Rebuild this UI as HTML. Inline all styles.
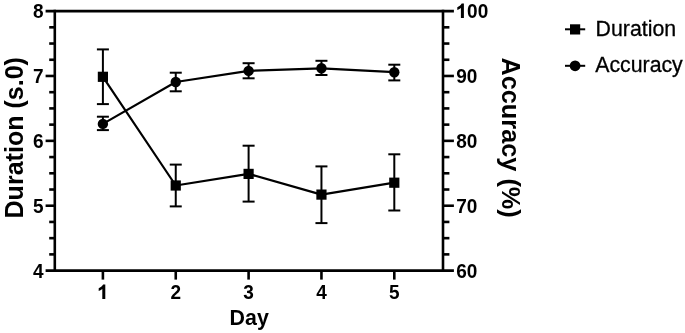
<!DOCTYPE html>
<html><head><meta charset="utf-8"><style>
html,body{margin:0;padding:0;background:#fff;width:685px;height:333px;overflow:hidden}
svg{display:block;filter:grayscale(1)}
text{font-family:"Liberation Sans",sans-serif}
</style></head><body>
<svg width="685" height="333" viewBox="0 0 685 333">
<g stroke="#000" stroke-width="2.6" fill="none" stroke-linecap="butt">
<line x1="45.6" y1="11.1" x2="453.9" y2="11.1"/>
<line x1="45.6" y1="270.6" x2="453.9" y2="270.6"/>
<line x1="54.8" y1="9.799999999999999" x2="54.8" y2="271.90000000000003"/>
<line x1="443.0" y1="9.799999999999999" x2="443.0" y2="271.90000000000003"/>
<line x1="45.6" y1="75.97" x2="54.8" y2="75.97"/>
<line x1="443.0" y1="75.97" x2="453.9" y2="75.97"/>
<line x1="45.6" y1="140.85" x2="54.8" y2="140.85"/>
<line x1="443.0" y1="140.85" x2="453.9" y2="140.85"/>
<line x1="45.6" y1="205.72" x2="54.8" y2="205.72"/>
<line x1="443.0" y1="205.72" x2="453.9" y2="205.72"/>
<line x1="49.2" y1="27.32" x2="54.8" y2="27.32"/>
<line x1="443.0" y1="27.32" x2="449.4" y2="27.32"/>
<line x1="49.2" y1="43.54" x2="54.8" y2="43.54"/>
<line x1="443.0" y1="43.54" x2="449.4" y2="43.54"/>
<line x1="49.2" y1="59.76" x2="54.8" y2="59.76"/>
<line x1="443.0" y1="59.76" x2="449.4" y2="59.76"/>
<line x1="49.2" y1="92.19" x2="54.8" y2="92.19"/>
<line x1="443.0" y1="92.19" x2="449.4" y2="92.19"/>
<line x1="49.2" y1="108.41" x2="54.8" y2="108.41"/>
<line x1="443.0" y1="108.41" x2="449.4" y2="108.41"/>
<line x1="49.2" y1="124.63" x2="54.8" y2="124.63"/>
<line x1="443.0" y1="124.63" x2="449.4" y2="124.63"/>
<line x1="49.2" y1="157.07" x2="54.8" y2="157.07"/>
<line x1="443.0" y1="157.07" x2="449.4" y2="157.07"/>
<line x1="49.2" y1="173.29" x2="54.8" y2="173.29"/>
<line x1="443.0" y1="173.29" x2="449.4" y2="173.29"/>
<line x1="49.2" y1="189.51" x2="54.8" y2="189.51"/>
<line x1="443.0" y1="189.51" x2="449.4" y2="189.51"/>
<line x1="49.2" y1="221.94" x2="54.8" y2="221.94"/>
<line x1="443.0" y1="221.94" x2="449.4" y2="221.94"/>
<line x1="49.2" y1="238.16" x2="54.8" y2="238.16"/>
<line x1="443.0" y1="238.16" x2="449.4" y2="238.16"/>
<line x1="49.2" y1="254.38" x2="54.8" y2="254.38"/>
<line x1="443.0" y1="254.38" x2="449.4" y2="254.38"/>
<line x1="102.90" y1="270.6" x2="102.90" y2="279.6"/>
<line x1="175.75" y1="270.6" x2="175.75" y2="279.6"/>
<line x1="248.60" y1="270.6" x2="248.60" y2="279.6"/>
<line x1="321.45" y1="270.6" x2="321.45" y2="279.6"/>
<line x1="394.30" y1="270.6" x2="394.30" y2="279.6"/>
</g>
<g font-family="'Liberation Sans', sans-serif" font-weight="bold" font-size="20.7" fill="#000">
<text transform="translate(43.6,18.20) scale(0.92,1)" text-anchor="end">8</text>
<text transform="translate(43.6,83.07) scale(0.92,1)" text-anchor="end">7</text>
<text transform="translate(43.6,147.95) scale(0.92,1)" text-anchor="end">6</text>
<text transform="translate(43.6,212.82) scale(0.92,1)" text-anchor="end">5</text>
<text transform="translate(43.6,277.70) scale(0.92,1)" text-anchor="end">4</text>
<text transform="translate(467.1,18.20) scale(0.92,1)">00</text>
<text transform="translate(456.2,83.07) scale(0.92,1)">90</text>
<text transform="translate(456.2,147.95) scale(0.92,1)">80</text>
<text transform="translate(456.2,212.82) scale(0.92,1)">70</text>
<text transform="translate(456.2,277.70) scale(0.92,1)">60</text>
<text transform="translate(175.75,299) scale(0.92,1)" text-anchor="middle">2</text>
<text transform="translate(248.60,299) scale(0.92,1)" text-anchor="middle">3</text>
<text transform="translate(321.45,299) scale(0.92,1)" text-anchor="middle">4</text>
<text transform="translate(394.30,299) scale(0.92,1)" text-anchor="middle">5</text>
</g>
<path d="M105.3,284.59999999999997 L105.3,298.9 L102.3,298.9 L102.3,288.9 C101.1,289.9 99.8,290.5 98.7,290.9 L98.7,288.29999999999995 C100.5,287.59999999999997 102.1,286.29999999999995 103.1,284.59999999999997 Z" fill="#000"/>
<path d="M463.9,3.599999999999998 L463.9,17.9 L460.9,17.9 L460.9,7.899999999999999 C459.7,8.899999999999999 458.4,9.499999999999998 457.29999999999995,9.899999999999999 L457.29999999999995,7.299999999999999 C459.09999999999997,6.599999999999998 460.7,5.299999999999999 461.7,3.599999999999998 Z" fill="#000"/>
<g font-family="'Liberation Sans', sans-serif" font-weight="bold" font-size="25.3" fill="#000">
<text transform="translate(23.2,137.75) rotate(-90)" text-anchor="middle" font-size="25.05">Duration (s.0)</text>
<text transform="translate(502.2,137.6) rotate(90)" text-anchor="middle">Accuracy (%)</text>
<text transform="translate(249.2,325.0) scale(0.93,1)" text-anchor="middle" font-size="23">Day</text>
</g>
<g stroke="#000" stroke-width="2.0" fill="none">
<polyline stroke-width="2.2" stroke-linejoin="round" points="102.90,76.8 175.75,185.5 248.60,173.9 321.45,194.6 394.30,182.7"/>
<polyline stroke-width="2.2" stroke-linejoin="round" points="102.90,123.9 175.75,82.0 248.60,70.9 321.45,68.3 394.30,72.2"/>
<line x1="102.90" y1="49.4" x2="102.90" y2="104.1"/>
<line x1="96.90" y1="49.4" x2="108.90" y2="49.4"/>
<line x1="96.90" y1="104.1" x2="108.90" y2="104.1"/>
<line x1="175.75" y1="164.6" x2="175.75" y2="206.4"/>
<line x1="169.75" y1="164.6" x2="181.75" y2="164.6"/>
<line x1="169.75" y1="206.4" x2="181.75" y2="206.4"/>
<line x1="248.60" y1="145.7" x2="248.60" y2="201.6"/>
<line x1="242.60" y1="145.7" x2="254.60" y2="145.7"/>
<line x1="242.60" y1="201.6" x2="254.60" y2="201.6"/>
<line x1="321.45" y1="166.4" x2="321.45" y2="223.1"/>
<line x1="315.45" y1="166.4" x2="327.45" y2="166.4"/>
<line x1="315.45" y1="223.1" x2="327.45" y2="223.1"/>
<line x1="394.30" y1="154.3" x2="394.30" y2="210.5"/>
<line x1="388.30" y1="154.3" x2="400.30" y2="154.3"/>
<line x1="388.30" y1="210.5" x2="400.30" y2="210.5"/>
<line x1="102.90" y1="116.7" x2="102.90" y2="130.1"/>
<line x1="96.90" y1="116.7" x2="108.90" y2="116.7"/>
<line x1="96.90" y1="130.1" x2="108.90" y2="130.1"/>
<line x1="175.75" y1="72.7" x2="175.75" y2="91.3"/>
<line x1="169.75" y1="72.7" x2="181.75" y2="72.7"/>
<line x1="169.75" y1="91.3" x2="181.75" y2="91.3"/>
<line x1="248.60" y1="63.2" x2="248.60" y2="78.3"/>
<line x1="242.60" y1="63.2" x2="254.60" y2="63.2"/>
<line x1="242.60" y1="78.3" x2="254.60" y2="78.3"/>
<line x1="321.45" y1="60.8" x2="321.45" y2="75.0"/>
<line x1="315.45" y1="60.8" x2="327.45" y2="60.8"/>
<line x1="315.45" y1="75.0" x2="327.45" y2="75.0"/>
<line x1="394.30" y1="64.7" x2="394.30" y2="80.4"/>
<line x1="388.30" y1="64.7" x2="400.30" y2="64.7"/>
<line x1="388.30" y1="80.4" x2="400.30" y2="80.4"/>
</g>
<rect x="97.80" y="71.70" width="10.2" height="10.2" fill="#000"/>
<rect x="170.65" y="180.40" width="10.2" height="10.2" fill="#000"/>
<rect x="243.50" y="168.80" width="10.2" height="10.2" fill="#000"/>
<rect x="316.35" y="189.50" width="10.2" height="10.2" fill="#000"/>
<rect x="389.20" y="177.60" width="10.2" height="10.2" fill="#000"/>
<circle cx="102.90" cy="123.9" r="5.2" fill="#000"/>
<circle cx="175.75" cy="82.0" r="5.2" fill="#000"/>
<circle cx="248.60" cy="70.9" r="5.2" fill="#000"/>
<circle cx="321.45" cy="68.3" r="5.2" fill="#000"/>
<circle cx="394.30" cy="72.2" r="5.2" fill="#000"/>
<g stroke="#000" stroke-width="2.0"><line x1="565" y1="29.3" x2="585.2" y2="29.3"/><line x1="565" y1="65.8" x2="585.2" y2="65.8"/></g>
<rect x="570.00" y="24.30" width="10.2" height="10.2" fill="#000"/>
<circle cx="575.1" cy="65.8" r="5.4" fill="#000"/>
<g font-family="'Liberation Sans', sans-serif" font-size="21.3" fill="#000" stroke="#000" stroke-width="0.3">
<text x="595.6" y="36.3">Duration</text>
<text x="595.2" y="72.3">Accuracy</text>
</g>
</svg>
</body></html>
